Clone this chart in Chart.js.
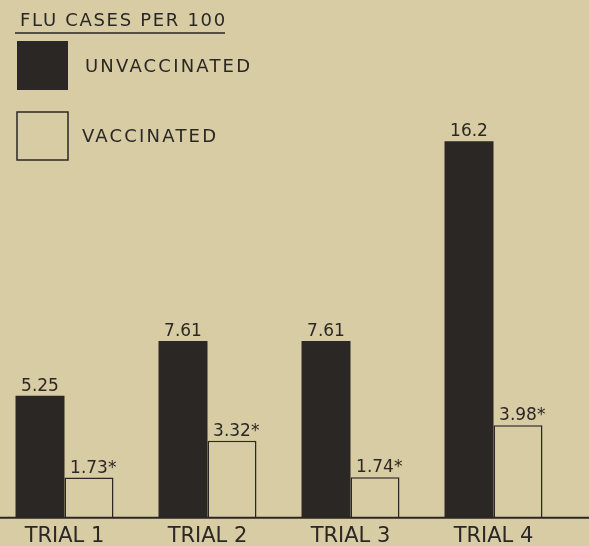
<!DOCTYPE html>
<html>
<head>
<meta charset="utf-8">
<script src="https://cdn.jsdelivr.net/npm/chart.js@4/dist/chart.umd.min.js"></script>
<style>
html, body { margin: 0; padding: 0; background: #d7cca4; overflow: hidden; width: 589px; height: 546px; }
#wrap { position: absolute; left: -7px; top: 0; width: 596px; height: 547px; }
</style>
</head>
<body>
<div id="wrap"><canvas id="chart"></canvas></div>
<script>
var trials = ['TRIAL 1', 'TRIAL 2', 'TRIAL 3', 'TRIAL 4'];
var unvaccinated = [5.25, 7.61, 7.61, 16.2];
var vaccinated = [1.73, 3.32, 1.74, 3.98];
var seriesNames = ['UNVACCINATED', 'VACCINATED'];
var legendTitle = 'FLU CASES PER 100';

var ink = '#2b2724';
var paper = '#d7cca4';
var shift = 7; // canvas starts 7px left of the page

// long baseline running across the whole page
var baseline = {
    id: 'baseline',
    afterDatasetsDraw: function (chart) {
        var ctx = chart.ctx;
        var y = chart.scales.y.getPixelForValue(0);
        ctx.save();
        ctx.strokeStyle = ink;
        ctx.lineWidth = 2;
        ctx.beginPath();
        ctx.moveTo(shift, y);
        ctx.lineTo(chart.width, y);
        ctx.stroke();
        ctx.restore();
    }
};

// numbers above the bars, asterisk on the vaccinated ones
var valueLabels = {
    id: 'valueLabels',
    afterDatasetsDraw: function (chart) {
        var ctx = chart.ctx;
        ctx.save();
        ctx.font = '17px "DejaVu Sans"';
        ctx.fillStyle = ink;
        ctx.textBaseline = 'alphabetic';
        chart.data.datasets.forEach(function (ds, i) {
            chart.getDatasetMeta(i).data.forEach(function (bar, j) {
                var txt = String(ds.data[j]);
                var w = ctx.measureText(txt).width;
                ctx.textAlign = 'center';
                ctx.fillText(txt, bar.x, bar.y - 5);
                if (i === 1) {
                    ctx.textAlign = 'left';
                    ctx.fillText('*', bar.x + w / 2, bar.y - 5);
                }
            });
        });
        ctx.restore();
    }
};

// hand drawn legend block, top left
var legendBlock = {
    id: 'legendBlock',
    afterDraw: function (chart) {
        var ctx = chart.ctx;
        var ds = chart.data.datasets;
        ctx.save();
        ctx.fillStyle = ink;
        ctx.strokeStyle = ink;
        ctx.letterSpacing = '1.7px';
        ctx.font = '18px "DejaVu Sans"';
        ctx.textAlign = 'left';
        ctx.textBaseline = 'alphabetic';
        ctx.fillText(legendTitle, shift + 20, 26);
        ctx.lineWidth = 1.5;
        ctx.beginPath();
        ctx.moveTo(shift + 15, 33);
        ctx.lineTo(shift + 225, 33);
        ctx.stroke();

        ctx.fillStyle = ds[0].backgroundColor;
        ctx.fillRect(shift + 17, 41, 51, 49);
        ctx.fillStyle = ds[1].backgroundColor;
        ctx.fillRect(shift + 17, 112, 51, 48);
        ctx.strokeRect(shift + 17, 112, 51, 48);

        ctx.fillStyle = ink;
        ctx.letterSpacing = '2.2px';
        ctx.textBaseline = 'middle';
        ctx.fillText(ds[0].label, shift + 85, 67);
        ctx.fillText(ds[1].label, shift + 82, 137);
        ctx.restore();
    }
};

var config = {
    type: 'bar',
    data: {
        labels: trials,
        datasets: [{
                label: seriesNames[0],
                data: unvaccinated,
                backgroundColor: ink,
                borderWidth: 0
            }, {
                label: seriesNames[1],
                data: vaccinated,
                backgroundColor: paper,
                borderColor: ink,
                borderWidth: 1.5
            }]
    },
    options: {
        responsive: true,
        maintainAspectRatio: false,
        animation: false,
        layout: {
            padding: {top: 0, left: 0, right: 24, bottom: 0}
        },
        datasets: {
            bar: {
                categoryPercentage: 0.685,
                barPercentage: 1
            }
        },
        plugins: {
            legend: {display: false},
            tooltip: {enabled: false}
        },
        scales: {
            y: {
                display: false,
                min: 0,
                max: 22.28
            },
            x: {
                grid: {display: false},
                border: {display: false},
                ticks: {
                    color: ink,
                    padding: -2,
                    font: {family: '"DejaVu Sans"', size: 21}
                }
            }
        }
    },
    plugins: [baseline, valueLabels, legendBlock]
};

var ctx = document.getElementById('chart').getContext('2d');
var myBars = new Chart(ctx, config);
</script>
</body>
</html>
